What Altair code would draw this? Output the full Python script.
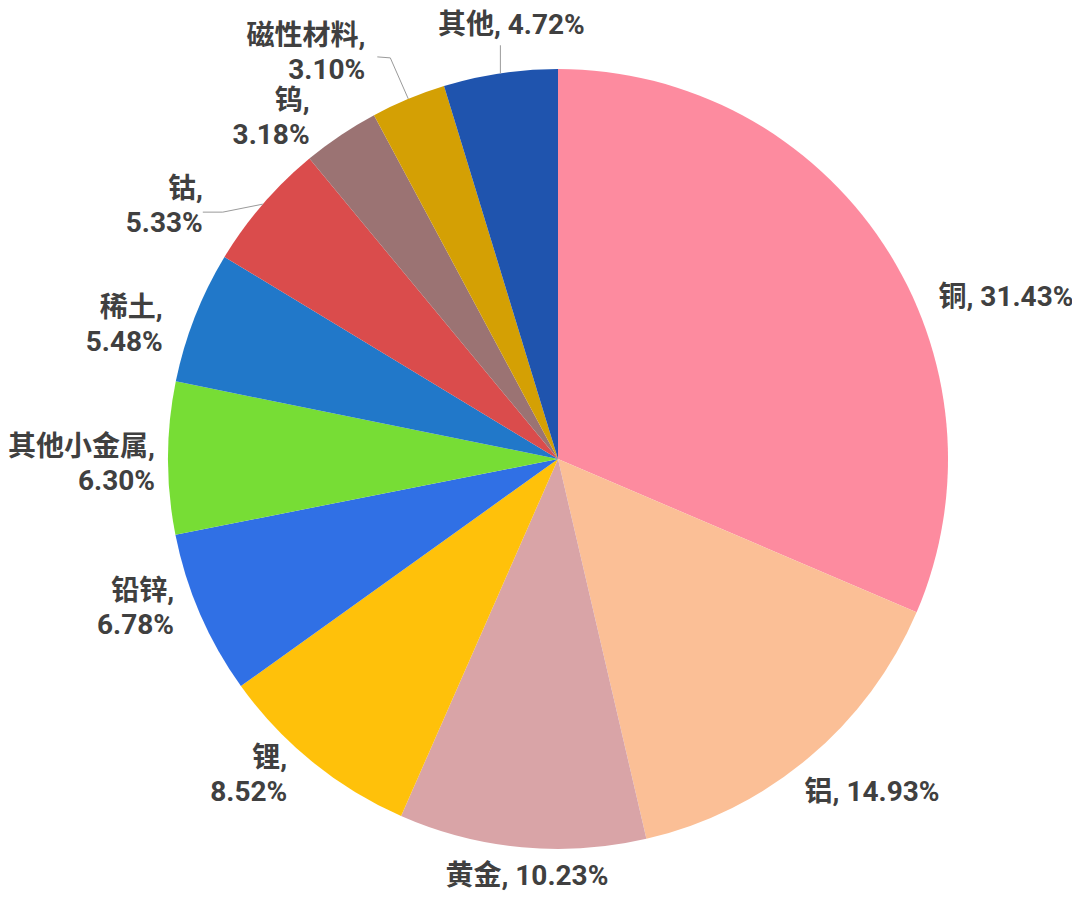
import math
import altair as alt
import pandas as pd

# ---- data ----
categories = ["铜", "铝", "黄金", "锂", "铅锌", "其他小金属", "稀土", "钴", "钨", "磁性材料", "其他"]
shares = [31.43, 14.93, 10.23, 8.52, 6.78, 6.30, 5.48, 5.33, 3.18, 3.10, 4.72]
two_line = ["锂", "铅锌", "其他小金属", "稀土", "钴", "钨", "磁性材料"]
colors = ["#FD8B9F", "#FBBF96", "#D9A4A7", "#FFC10A", "#3070E5", "#77DD35",
          "#2178C9", "#DA4C4C", "#9B7373", "#D4A004", "#1F54AE"]

# ---- layout / style ----
CX, CY, R = 550, 451, 390
FONT = "Roboto, 'Noto Sans CJK SC', sans-serif"
TEXT_COLOR = "#404040"
LINE_H = 34
ML_SHIFT = -16  # lift two-line labels so the block is centred on its anchor
# label alignment and nudge from the slice's mid-angle point on the rim
label_style = {
    "铜": ("left", 55, 54),
    "铝": ("left", -4, 35),
    "黄金": ("center", 5, 30),
    "锂": ("right", -25, 13),
    "铅锌": ("right", -26, -6),
    "其他小金属": ("right", -13, 6),
    "稀土": ("right", -32, 8),
    "钴": ("right", -60, 2),
    "钨": ("right", -31, -17),
    "磁性材料": ("right", -43, -46),
    "其他": ("center", 11, -47),
}
# leader line vertices relative to the slice's mid-angle rim point
leader_style = {
    "其他": [(0, 0), (0, -28)],
    "磁性材料": [(0, 0), (-18, -41), (-31, -42)],
    "钴": [(0, 0), (-40, 8), (-60, 8)],
}

labels = [
    f"{c},\n{v:.2f}%" if c in two_line else f"{c}, {v:.2f}%"
    for c, v in zip(categories, shares)
]
df = pd.DataFrame({
    "name": categories,
    "share": shares,
    "idx": list(range(len(categories))),
    "label": labels,
})

# leader lines derived from slice mid-angles
total = sum(shares)
rows = []
cum = 0.0
for c, v in zip(categories, shares):
    mid = (cum + v / 2) / total * 2 * math.pi
    cum += v
    if c in leader_style:
        ex = CX + R * math.sin(mid)
        ey = CY - R * math.cos(mid)
        for k, (ox, oy) in enumerate(leader_style[c]):
            rows.append({"name": c, "seq": k, "lx": ex + ox, "ly": ey + oy})
leader_df = pd.DataFrame(rows)

pie = alt.Chart(df).mark_arc(outerRadius=R, stroke=None).encode(
    theta=alt.Theta("share:Q", stack=True),
    order=alt.Order("idx:Q"),
    color=alt.Color("name:N", scale=alt.Scale(domain=categories, range=colors), legend=None),
    x=alt.value(CX),
    y=alt.value(CY),
)

leaders = alt.Chart(leader_df).mark_line(color="#9a9a9a", strokeWidth=1).encode(
    x=alt.X("lx:Q", scale=None),
    y=alt.Y("ly:Q", scale=None),
    detail="name:N",
    order="seq:Q",
)

layers = [pie, leaders]
for name, (align, dx, dy) in label_style.items():
    if name in two_line:
        dy += ML_SHIFT
    layers.append(
        alt.Chart(df).transform_calculate(
            lbl=f"datum.name === '{name}' ? datum.label : ''"
        ).mark_text(
            align=align, baseline="middle", dx=dx, dy=dy, radius=R,
            font=FONT, fontSize=28, fontWeight="bold", color=TEXT_COLOR,
            lineBreak="\n", lineHeight=LINE_H,
        ).encode(
            theta=alt.Theta("share:Q", stack=True),
            order=alt.Order("idx:Q"),
            text=alt.Text("lbl:N"),
            x=alt.value(CX),
            y=alt.value(CY),
        )
    )

chart = alt.layer(*layers).properties(
    width=1064, height=886,
    autosize=alt.AutoSizeParams(type="none"),
    padding=0,
).configure_view(stroke=None)

chart.save("out.html", embed_options={"renderer": "svg", "actions": False})
